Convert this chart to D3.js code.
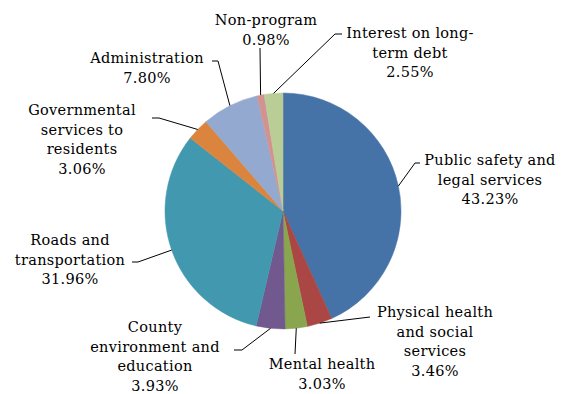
<!DOCTYPE html>
<html>
<head>
<meta charset="utf-8">
<script src="https://cdn.jsdelivr.net/npm/d3@7"></script>
<style>
  body { margin: 0; background: #fff; }
  text { font-family: "DejaVu Serif", serif; font-size: 14.5px; letter-spacing: 0.3px; fill: #000; }
</style>
</head>
<body>
<div id="chart"></div>
<script>
// data, clockwise from 12 o'clock
const categories = ["Public safety and legal services", "Physical health and social services", "Mental health",
  "County environment and education", "Roads and transportation", "Governmental services to residents",
  "Administration", "Non-program", "Interest on long-term debt"];
const shares = [43.23, 3.46, 3.03, 3.93, 31.96, 3.06, 7.80, 0.98, 2.55];
const colors = ["#4572A7", "#AA4643", "#89A54E", "#71588F", "#4198AF", "#DB843D", "#93A9CF", "#D19392", "#B9CD96"];

// label text as it wraps in the picture
const labelLines = [
  ["Public safety and", "legal services"],
  ["Physical health", "and social", "services"],
  ["Mental health"],
  ["County", "environment and", "education"],
  ["Roads and", "transportation"],
  ["Governmental", "services to", "residents"],
  ["Administration"],
  ["Non-program"],
  ["Interest on long-", "term debt"]
];

// label layout: text centre x, first baseline y, leader elbow and end
const labelPos = [
  {x: 490, y: 165, elbow: [415, 163], end: 420},
  {x: 435, y: 317, elbow: [370, 317], end: 370},
  {x: 322, y: 369, elbow: [295, 354], end: 295},
  {x: 155, y: 332, elbow: [242, 350], end: 234},
  {x: 70, y: 245, elbow: [138, 262], end: 132},
  {x: 82, y: 115, elbow: [159, 118], end: 152},
  {x: 147, y: 63, elbow: [218, 61], end: 212},
  {x: 266, y: 25, elbow: [260, 48], end: 260},
  {x: 410, y: 38, elbow: [335, 34], end: 342}
];

const width = 569, height = 394;
const cx = 283, cy = 211, radius = 118;
const lineH = 19.5;

const svg = d3.select("#chart").append("svg")
  .attr("width", width)
  .attr("height", height);

const data = categories.map((c, i) => ({name: c, value: shares[i], i: i}));

const pie = d3.pie().value(d => d.value).sort(null);
const arc = d3.arc().innerRadius(0).outerRadius(radius);
const arcs = pie(data);

const g = svg.append("g").attr("transform", "translate(" + cx + "," + cy + ")");

g.selectAll("path.slice")
  .data(arcs)
  .enter()
  .append("path")
  .attr("class", "slice")
  .attr("d", arc)
  .attr("fill", d => colors[d.data.i])
  .attr("stroke", d => colors[d.data.i])
  .attr("stroke-width", 0.5);

// leader lines
svg.selectAll("polyline.leader")
  .data(arcs)
  .enter()
  .append("polyline")
  .attr("class", "leader")
  .attr("fill", "none")
  .attr("stroke", "#000")
  .attr("stroke-width", 1)
  .attr("points", d => {
    const a = (d.startAngle + d.endAngle) / 2;
    const p0 = [cx + radius * Math.sin(a), cy - radius * Math.cos(a)];
    const lp = labelPos[d.data.i];
    return [p0, lp.elbow, [lp.end, lp.elbow[1]]].map(p => p.join(",")).join(" ");
  });

// labels
const labels = svg.selectAll("text.label")
  .data(data)
  .enter()
  .append("text")
  .attr("class", "label")
  .attr("text-anchor", "middle")
  .attr("transform", d => "translate(" + labelPos[d.i].x + "," + labelPos[d.i].y + ")");

labels.each(function(d) {
  const t = d3.select(this);
  const lines = labelLines[d.i].concat([d.value.toFixed(2) + "%"]);
  lines.forEach((l, k) => {
    t.append("tspan").attr("x", 0).attr("y", k * lineH).text(l);
  });
});
</script>
</body>
</html>
